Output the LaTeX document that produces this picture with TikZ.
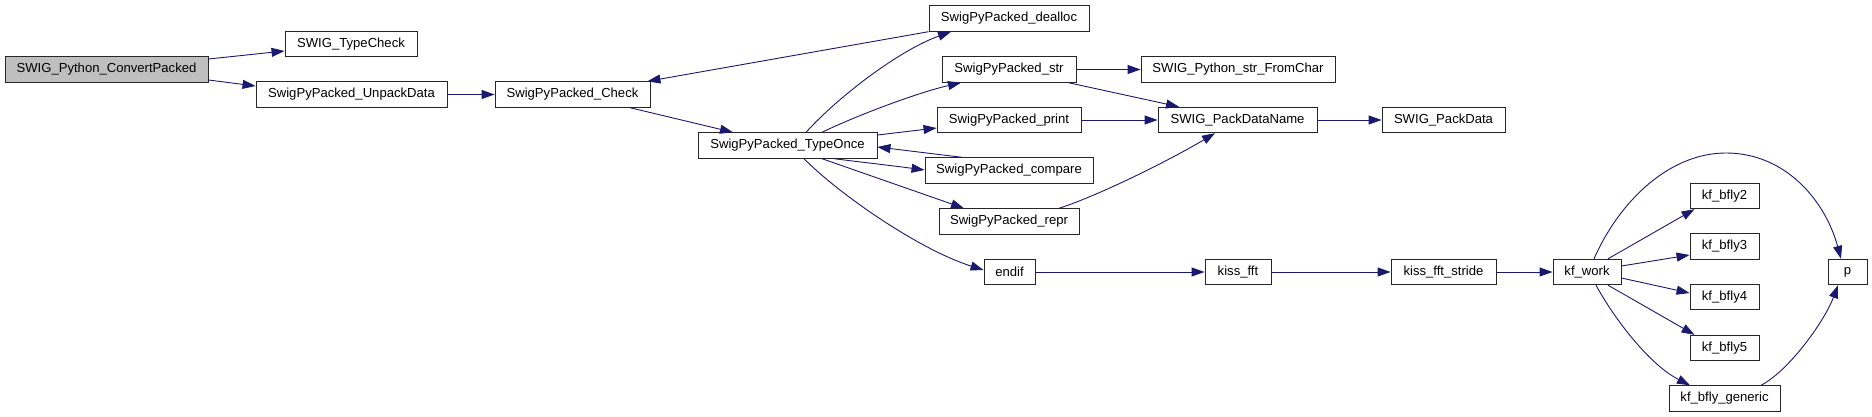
\documentclass[tikz,border=0pt]{standalone}
\usepackage{fontspec}
\setmainfont{Liberation Sans}
\usetikzlibrary{arrows.meta,calc}
\definecolor{edgec}{HTML}{191970}
\definecolor{rootfill}{HTML}{BFBFBF}
\begin{document}
\begin{tikzpicture}[x=1pt,y=-1pt,
  box/.style={draw=black!85, line width=0.9pt, fill=white, rectangle, inner sep=0pt,
    minimum height=25.5pt, font=\fontsize{13.1}{15}\selectfont, anchor=center},
  root/.style={box, fill=rootfill},
  edge/.style={draw=edgec, line width=0.9pt, -{Triangle[length=13pt,width=9pt]}}]
\useasboundingbox (0,0) rectangle (1872,417);

\node[root, minimum width=203pt] (conv) at (106.5,69.5) {SWIG\_Python\_ConvertPacked};
\node[box, minimum width=132pt] (tchk) at (351,44) {SWIG\_TypeCheck};
\node[box, minimum width=191pt] (unpk) at (351.5,94.5) {SwigPyPacked\_UnpackData};
\node[box, minimum width=155pt] (chk) at (572.5,94.5) {SwigPyPacked\_Check};
\node[box, minimum width=179pt] (once) at (787.5,145.5) {SwigPyPacked\_TypeOnce};
\node[box, minimum width=160pt] (deal) at (1009,18.5) {SwigPyPacked\_dealloc};
\node[box, minimum width=134pt] (str) at (1009,69.5) {SwigPyPacked\_str};
\node[box, minimum width=144pt] (prt) at (1009,120) {SwigPyPacked\_print};
\node[box, minimum width=168pt] (cmp) at (1009,170.5) {SwigPyPacked\_compare};
\node[box, minimum width=140pt] (repr) at (1009,221.5) {SwigPyPacked\_repr};
\node[box, minimum width=51pt] (endif) at (1009.5,272) {endif};
\node[box, minimum width=194pt] (fchr) at (1238,69.5) {SWIG\_Python\_str\_FromChar};
\node[box, minimum width=159pt] (pdn) at (1237.5,120) {SWIG\_PackDataName};
\node[box, minimum width=66pt] (fft) at (1238,272) {kiss\_fft};
\node[box, minimum width=123pt] (pd) at (1443.5,120) {SWIG\_PackData};
\node[box, minimum width=105pt] (strd) at (1443.5,272) {kiss\_fft\_stride};
\node[box, minimum width=68pt] (work) at (1587,272) {kf\_work};
\node[box, minimum width=69pt] (b2) at (1724.5,196) {kf\_bfly2};
\node[box, minimum width=69pt] (b3) at (1724.5,246.5) {kf\_bfly3};
\node[box, minimum width=69pt] (b4) at (1724.5,297) {kf\_bfly4};
\node[box, minimum width=69pt] (b5) at (1724.5,348) {kf\_bfly5};
\node[box, minimum width=111pt] (gen) at (1724.5,398.5) {kf\_bfly\_generic};
\node[box, minimum width=39pt] (p) at (1847.5,272) {p};

\draw[edge] ($(conv.east)+(0,-10.5)$) -- ($(tchk.west)+(0,7)$);
\draw[edge] ($(conv.east)+(0,10.5)$) -- ($(unpk.west)+(0,-8.5)$);
\draw[edge] (unpk) -- (chk);
\draw[edge] ($(chk.south)+(57.5,0)$) -- ($(once.north)+(-54.5,0)$);
\draw[edge] (deal.south west) -- ($(chk.north east)+(-3,0)$);
\draw[edge] ($(once.north)+(18.5,0)$) .. controls (840,95) and (900,50) .. ($(deal.south)+(-58,0)$);
\draw[edge] ($(once.north)+(34.5,0)$) .. controls (860,114) and (920,92) .. ($(str.south)+(-48,0)$);
\draw[edge] ($(once.east)+(0,-10.5)$) -- ($(prt.west)+(0,8)$);
\draw[edge] ($(cmp.north)+(-47,0)$) -- ($(once.east)+(0,1.5)$);
\draw[edge] ($(once.south)+(46.5,0)$) .. controls (860,162) and (895,166) .. ($(cmp.west)+(0,-0.5)$);
\draw[edge] ($(once.south)+(34.5,0)$) -- ($(repr.north)+(-45,0)$);
\draw[edge] ($(once.south)+(16.5,0)$) .. controls (840,195) and (920,250) .. ($(endif.west)+(0,-2)$);
\draw[edge] (str) -- (fchr);
\draw[edge] ($(str.south east)+(-8,0)$) -- ($(pdn.north)+(-58.5,0)$);
\draw[edge] (prt) -- (pdn);
\draw[edge] ($(repr.north)+(50,0)$) .. controls (1100,195) and (1170,160) .. ($(pdn.south)+(-22.5,0)$);
\draw[edge] (pdn) -- (pd);
\draw[edge] (endif) -- (fft);
\draw[edge] (fft) -- (strd);
\draw[edge] (strd) -- (work);
\draw[edge] ($(work.north)+(21,0)$) -- ($(b2.south west)+(5,0)$);
\draw[edge] ($(work.east)+(0,-6)$) -- ($(b3.west)+(0,8.5)$);
\draw[edge] ($(work.east)+(0,6)$) -- ($(b4.west)+(0,-4)$);
\draw[edge] ($(work.south)+(21,0)$) -- ($(b5.north west)+(5,0)$);
\draw[edge] ($(work.south)+(9,0)$) .. controls (1615,320) and (1650,365) .. ($(gen.north)+(-34.5,0)$);
\draw[edge] ($(work.north)+(7,0)$) .. controls (1620,200) and (1670,153) .. (1726,153)
  .. controls (1785,153) and (1825,200) .. ($(p.north)+(-6.5,0)$);
\draw[edge] ($(gen.north)+(36.5,0)$) .. controls (1790,370) and (1825,320) .. ($(p.south)+(-9.5,0)$);
\end{tikzpicture}
\end{document}
